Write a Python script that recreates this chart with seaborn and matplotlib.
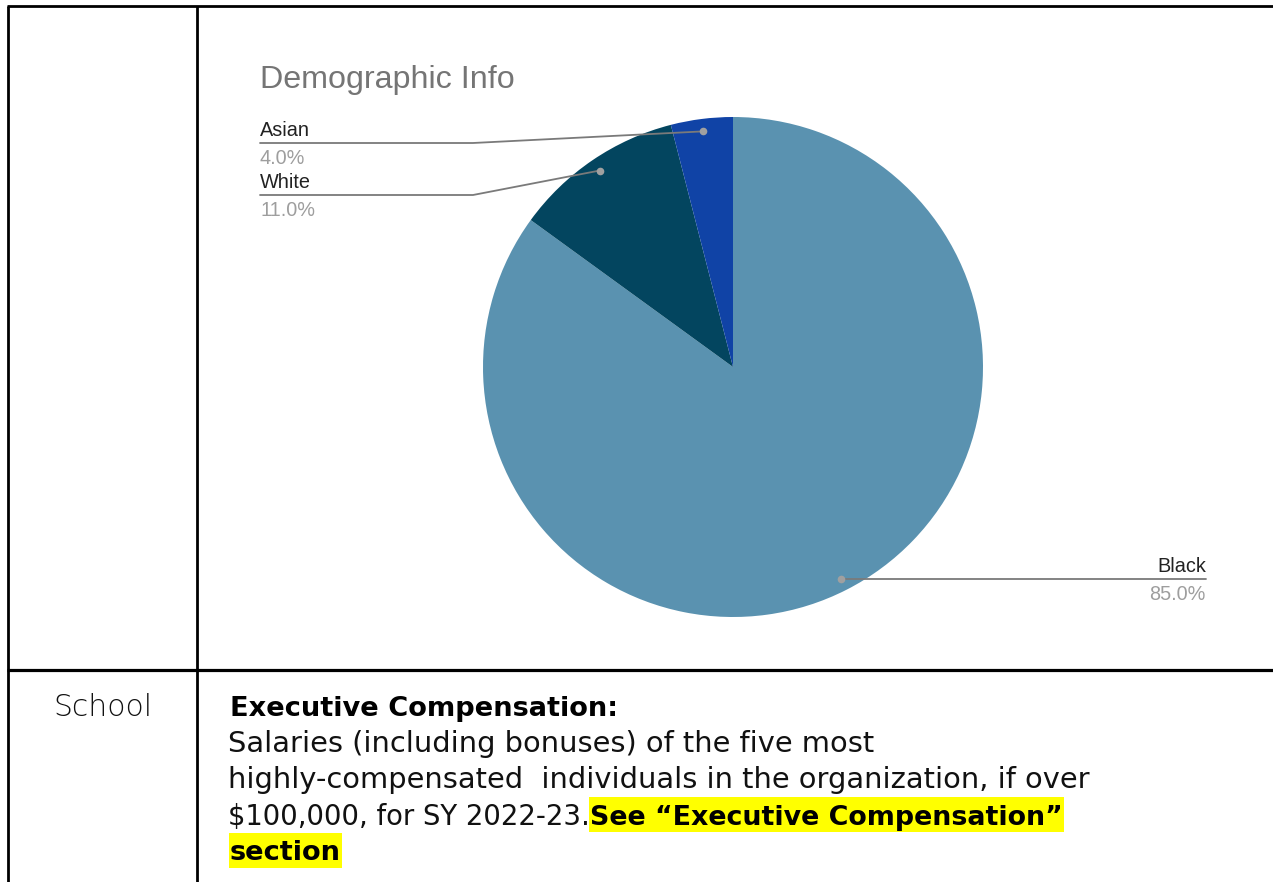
import numpy as np
import matplotlib
matplotlib.use("Agg")
import matplotlib.pyplot as plt
import seaborn as sns
from matplotlib.patches import Rectangle

# ---- data -------------------------------------------------------------
groups = ["Black", "White", "Asian"]
shares = [85.0, 11.0, 4.0]
slice_colors = ["#5a92b0", "#03455f", "#1043a6"]

chart_title = "Demographic Info"
row_label = "School"
heading = "Executive Compensation:"
body_lines = [
    "Salaries (including bonuses) of the five most",
    "highly-compensated  individuals in the organization, if over",
    "$100,000, for SY 2022-23.",
]
highlight_parts = ["See \u201cExecutive Compensation\u201d", "section"]

# ---- style ------------------------------------------------------------
sns.set_theme(style="white")
plt.rcParams["font.family"] = ["Liberation Sans", "DejaVu Sans"]

W, H = 1273, 882
fig = plt.figure(figsize=(W / 100, H / 100), dpi=100)
fig.patch.set_facecolor("white")

# full-page layer in pixel coordinates (y downwards)
page = fig.add_axes([0, 0, 1, 1])
page.set_xlim(0, W)
page.set_ylim(H, 0)
page.axis("off")

# table grid
border = dict(color="black", lw=2.0, solid_capstyle="butt")
page.plot([7, W], [6, 6], **border)
page.plot([8, 8], [6, H], **border)
page.plot([197, 197], [6, H], **border)
page.plot([7, W], [670, 670], color="black", lw=2.3, solid_capstyle="butt")

# ---- pie --------------------------------------------------------------
cx, cy, R = 733, 367, 250
pie_ax = fig.add_axes([(cx - R) / W, (H - cy - R) / H, 2 * R / W, 2 * R / H])
wedges, _ = pie_ax.pie(
    shares, colors=slice_colors, startangle=90, counterclock=False,
    radius=1.0, wedgeprops=dict(linewidth=0),
)
pie_ax.set_xlim(-1, 1)
pie_ax.set_ylim(-1, 1)
pie_ax.axis("off")


def to_pie(px, py):
    return (px - cx) / R, (cy - py) / R


fig.text(260 / W, 1 - 88 / H, chart_title, fontsize=23.2, color="#757575",
         ha="left", va="baseline", family="Liberation Sans")

lead_color = "#7a7a7a"
name_color = "#222222"
pct_color = "#9e9e9e"
label_fs = 14.3

# leader-line layout for each slice: (line y in px or None, elbow x, side)
layout = {
    "Asian": (143, 473, "left"),
    "White": (195, 473, "left"),
    "Black": (None, None, "right"),
}

for w, name, val in zip(wedges, groups, shares):
    mid = np.deg2rad((w.theta1 + w.theta2) / 2)
    dx, dy = 0.95 * np.cos(mid), 0.95 * np.sin(mid)
    line_y, elbow_x, side = layout[name]
    if line_y is None:
        line_y = cy - dy * R
    end_x = 260 if side == "left" else 1206
    ex, ey = to_pie(end_x, line_y)
    if elbow_x is not None:
        bx, by = to_pie(elbow_x, line_y)
        xs, ys = [dx, bx, ex], [dy, by, ey]
    else:
        xs, ys = [dx, ex], [dy, ey]
    pie_ax.plot(xs, ys, color=lead_color, lw=1.3, clip_on=False, zorder=5)
    pie_ax.plot([dx], [dy], "o", color="#a0a0a0", ms=5.5, mec="none",
                clip_on=False, zorder=6)
    ha = "left" if side == "left" else "right"
    page.text(end_x, line_y - 7, name, fontsize=label_fs, color=name_color,
              ha=ha, va="baseline", family="Liberation Sans")
    page.text(end_x, line_y + 21, f"{val:.1f}%", fontsize=label_fs,
              color=pct_color, ha=ha, va="baseline", family="Liberation Sans")

# ---- lower table row --------------------------------------------------
body_font = "DejaVu Sans"
bold_fs = 19.6
line_fs = [20.8, 20.8, 19.8]
page.text(53, 716, row_label, fontsize=21.5, color="#111111",
          ha="left", va="baseline", family=body_font, weight="light")
page.text(230, 716, heading, fontsize=bold_fs, color="black", weight="bold",
          ha="left", va="baseline", family=body_font)
baselines = [752, 788, 825]
for yb, line, fs in zip(baselines, body_lines, line_fs):
    page.text(228, yb, line, fontsize=fs, color="#111111",
              ha="left", va="baseline", family=body_font)

fig.canvas.draw()
renderer = fig.canvas.get_renderer()
last = page.texts[-1]
x_end = last.get_window_extent(renderer).x1

hl1 = page.text(x_end, 825, highlight_parts[0], fontsize=bold_fs - 0.2,
                color="black", weight="bold", ha="left", va="baseline",
                family=body_font, zorder=3)
hl2 = page.text(230, 860, highlight_parts[1], fontsize=bold_fs,
                color="black", weight="bold", ha="left", va="baseline",
                family=body_font, zorder=3)
fig.canvas.draw()
for t, (y0, y1) in ((hl1, (797, 832)), (hl2, (833, 868))):
    bb = t.get_window_extent(renderer)
    page.add_patch(Rectangle((bb.x0 - 1, y0), bb.width + 2, y1 - y0,
                             facecolor="#ffff00", edgecolor="none", zorder=2))

fig.savefig("out.png", dpi=100)
